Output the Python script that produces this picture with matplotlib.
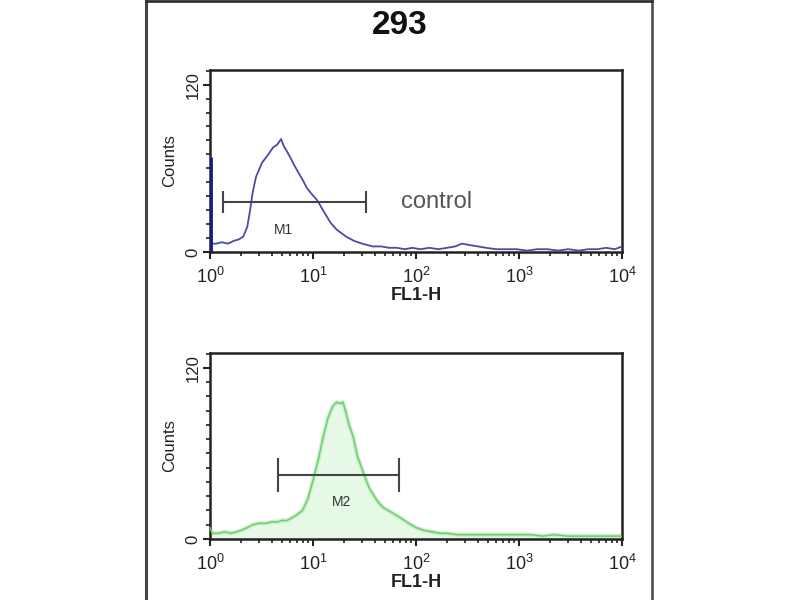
import matplotlib
matplotlib.use("Agg")
import matplotlib.pyplot as plt
from matplotlib.lines import Line2D
from matplotlib.ticker import LogLocator, MultipleLocator, FixedLocator, NullFormatter

plt.rcParams['font.family'] = ['Liberation Sans', 'DejaVu Sans']
plt.rcParams['mathtext.fontset'] = 'custom'
plt.rcParams['mathtext.rm'] = 'Liberation Sans'
plt.rcParams['mathtext.it'] = 'Liberation Sans'
plt.rcParams['mathtext.default'] = 'regular'

title = "293"
x_label = "FL1-H"
y_label = "Counts"
y_ticks = [0, 120]
x_ticks = [1, 10, 100, 1000, 10000]
x_ticklabels = ["$10^{0}$", "$10^{1}$", "$10^{2}$", "$10^{3}$", "$10^{4}$"]

# control (top panel)
ctrl_fl = [1.0, 1.03, 1.15, 1.3, 1.5, 1.7, 1.9, 2.1, 2.3, 2.45, 2.6, 2.8, 3.2, 3.6,
           4.1, 4.5, 4.9, 5.2, 5.6, 6.0, 6.6, 7.2, 7.9, 8.7, 9.6, 11, 12.5, 14.8,
           17, 21, 25, 30, 38, 46, 55, 65, 78, 92, 110, 135, 165, 200, 240, 280,
           330, 400, 480, 600, 750, 950, 1200, 1500, 1900, 2400, 3000, 3800,
           4700, 5800, 7000, 8500, 10000]
ctrl_counts = [68, 6, 6, 7, 6, 8, 9, 11, 18, 30, 43, 54, 64, 69,
               75, 77, 81, 76, 72, 68, 62, 57, 52, 46, 42, 37, 30, 21,
               16, 11, 8, 6, 4, 4, 3, 3, 2, 3, 2, 3, 2, 3, 4, 6,
               5, 4, 3, 2, 2, 2, 1, 2, 2, 1, 2, 1,
               2, 2, 3, 2, 4]
m1_range = [1.34, 33.0]
m1_level = 36

# sample (bottom panel)
samp_fl = [1.0, 1.05, 1.2, 1.4, 1.6, 1.8, 2.0, 2.3, 2.6, 3.0, 3.5, 4.0, 4.5, 5.0,
           5.6, 6.3, 7.0, 7.9, 8.9, 10, 11.2, 12.6, 14, 15.5, 17, 18.5, 19.5,
           21, 22.4, 24.5, 27, 31, 35, 41.7, 48, 60, 70, 85, 100, 120, 145, 170,
           200, 250, 320, 400, 500, 650, 800, 1000, 1300, 1700, 2200, 3000,
           4000, 5500, 7000, 10000]
samp_counts = [8, 4, 4, 5, 4, 5, 6, 8, 10, 11, 11, 12, 12, 13,
               13, 15, 17, 20, 28, 41, 55, 72, 85, 93, 96, 95, 96,
               88, 80, 72, 58, 46, 36, 27, 22, 18, 15, 11, 8, 6, 5, 4,
               4, 3, 3, 3, 3, 3, 3, 3, 3, 2, 3, 2,
               2, 2, 2, 2]
m2_range = [4.6, 68.0]
m2_level = 45

fig = plt.figure(figsize=(8, 6), dpi=100)
fig.patch.set_facecolor('white')

# frame lines of the picture
fig.add_artist(Line2D([146/800, 146/800], [0, 1], color='#444444', lw=2.2))
fig.add_artist(Line2D([652/800, 652/800], [0, 1], color='#555555', lw=2.0))
fig.add_artist(Line2D([146/800, 652/800], [0.999, 0.999], color='#333333', lw=2.0))

fig.text(0.5, 1 - 25/600, title, ha='center', va='center', fontsize=24,
         fontweight='bold', color='#111111')

ax1 = fig.add_axes([210/800, 1 - 252/600, 412/800, 182/600])
ax2 = fig.add_axes([210/800, 1 - 539/600, 412/800, 186/600])


def style(ax):
    ax.set_xscale('log')
    ax.set_xlim(1, 10000)
    ax.set_ylim(0, 130.5)
    ax.xaxis.set_major_locator(FixedLocator(x_ticks))
    ax.set_xticklabels(x_ticklabels)
    ax.xaxis.set_minor_locator(LogLocator(base=10, subs=range(2, 10)))
    ax.xaxis.set_minor_formatter(NullFormatter())
    ax.yaxis.set_major_locator(FixedLocator(y_ticks))
    ax.yaxis.set_minor_locator(MultipleLocator(10))
    ax.tick_params(axis='both', which='major', direction='out', length=5,
                   width=1.5, color='#222222', labelsize=13, labelcolor='#222222')
    ax.tick_params(axis='both', which='minor', direction='out', length=3,
                   width=1.2, color='#222222')
    ax.tick_params(axis='x', pad=6)
    ax.tick_params(axis='y', pad=2, labelsize=12)
    for lab in ax.get_yticklabels():
        lab.set_rotation(90)
        lab.set_va('center')
    for sp in ax.spines.values():
        sp.set_linewidth(1.8)
        sp.set_color('#222222')
    ax.set_xlabel(x_label, fontsize=13, fontweight='bold', labelpad=0,
                  color='#222222')
    ax.set_ylabel(y_label, fontsize=12, labelpad=6, color='#222222')


style(ax1)
style(ax2)

# top: control histogram
ax1.plot(ctrl_fl, ctrl_counts, color='#4a4aa8', lw=1.3, zorder=3)
ax1.plot([1.0, 1.0], [0, ctrl_counts[0]], color='#1a1a80', lw=3.5, zorder=4,
         solid_capstyle='butt')
ax1.hlines(m1_level, m1_range[0], m1_range[1], color='#444444', lw=1.5, zorder=5)
ax1.vlines(m1_range, m1_level - 8, m1_level + 8, color='#444444', lw=1.5, zorder=5)
ax1.text(5.2, 16, "M1", ha='center', va='center', fontsize=10, color='#333333')
ax1.text(72, m1_level, "control", ha='left', va='center', fontsize=17,
         color='#555555')

# bottom: sample histogram
ax2.fill_between(samp_fl, 0, samp_counts, color='#e6f8e6', zorder=1)
ax2.plot(samp_fl, samp_counts, color='#c8f0c8', lw=3.0, zorder=2)
ax2.plot(samp_fl, samp_counts, color='#72cc72', lw=1.1, zorder=3)
ax2.hlines(m2_level, m2_range[0], m2_range[1], color='#444444', lw=1.5, zorder=5)
ax2.vlines(m2_range, m2_level - 12, m2_level + 12, color='#444444', lw=1.5, zorder=5)
ax2.text(19, 26, "M2", ha='center', va='center', fontsize=10, color='#333333')

fig.savefig('out.png', dpi=100, facecolor='white')
